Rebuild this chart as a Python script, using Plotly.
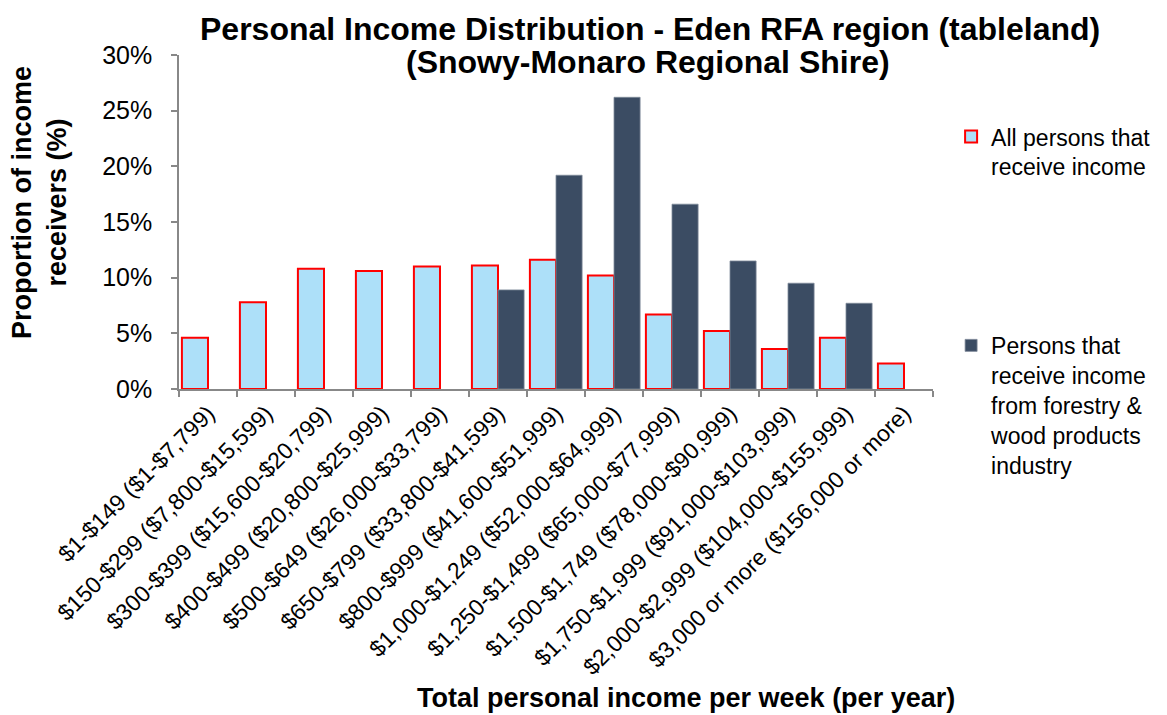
import plotly.graph_objects as go

categories = [
    "$1-$149 ($1-$7,799)",
    "$150-$299 ($7,800-$15,599)",
    "$300-$399 ($15,600-$20,799)",
    "$400-$499 ($20,800-$25,999)",
    "$500-$649 ($26,000-$33,799)",
    "$650-$799 ($33,800-$41,599)",
    "$800-$999 ($41,600-$51,999)",
    "$1,000-$1,249 ($52,000-$64,999)",
    "$1,250-$1,499 ($65,000-$77,999)",
    "$1,500-$1,749 ($78,000-$90,999)",
    "$1,750-$1,999 ($91,000-$103,999)",
    "$2,000-$2,999 ($104,000-$155,999)",
    "$3,000 or more ($156,000 or more)",
]
all_persons = [4.6, 7.8, 10.8, 10.6, 11.0, 11.1, 11.6, 10.2, 6.7, 5.2, 3.6, 4.6, 2.3]
forestry = [None, None, None, None, None, 8.9, 19.2, 26.2, 16.6, 11.5, 9.5, 7.7, None]
y_ticks = [0, 5, 10, 15, 20, 25, 30]
y_tick_labels = ["0%", "5%", "10%", "15%", "20%", "25%", "30%"]

FONT = "Liberation Sans, Arial, sans-serif"
AXIS_GRAY = "#888888"

# page offset of the figure div (body margin)
OFF = 8
PL, PT, PW, PH = 179, 55, 754, 334  # plot area in page pixels


def px(xpage):
    return (xpage - PL) / PW


def py(ypage):
    return (PT + PH - ypage) / PH


fig = go.Figure()
fig.add_trace(go.Bar(
    x=categories, y=all_persons,
    name="All persons that<br>receive income",
    marker=dict(color="#ADE0F9", line=dict(color="#FF0000", width=2)),
    legendgroup="a",
))
fig.add_trace(go.Bar(
    x=categories, y=forestry,
    name="Persons that<br>receive income<br>from forestry &<br>wood products<br>industry",
    marker=dict(color="#3B4C63", line=dict(color="#7F8A99", width=0.8)),
    legendgroup="b",
))

W, H = 1167 - OFF, 715 - OFF
fig.update_layout(
    width=W, height=H,
    margin=dict(l=PL - OFF, r=W - (PL - OFF) - PW, t=PT - OFF, b=H - (PT - OFF) - PH, autoexpand=False),
    paper_bgcolor="white", plot_bgcolor="white",
    font=dict(family=FONT, color="black"),
    barmode="group", bargap=0.1, bargroupgap=0,
    showlegend=True,
    legend=dict(
        x=1.024, xanchor="left", y=0.82, yanchor="top",
        font=dict(size=23, family=FONT, color="black"),
        valign="top", tracegroupgap=146, itemwidth=30,
        traceorder="grouped", maxheight=690,
        bgcolor="rgba(0,0,0,0)",
    ),
    xaxis=dict(
        showline=True, linecolor=AXIS_GRAY, linewidth=1.5,
        ticks="outside", tickson="boundaries", ticklen=6, tickcolor=AXIS_GRAY, tickwidth=1.5,
        tickangle=-45, tickfont=dict(size=23, family=FONT, color="black"),
        showgrid=False, automargin=False,
    ),
    yaxis=dict(
        range=[0, 30], tickvals=y_ticks, ticktext=y_tick_labels,
        showline=True, linecolor=AXIS_GRAY, linewidth=1.5,
        ticks="outside", ticklen=6, tickcolor=AXIS_GRAY, tickwidth=1.5,
        tickfont=dict(size=25, family=FONT, color="black"),
        ticklabelstandoff=14,
        showgrid=False, zeroline=False, automargin=False,
    ),
)

# Title (two lines)
fig.add_annotation(
    text="<b>Personal Income Distribution - Eden RFA region (tableland)</b>",
    xref="paper", yref="paper", x=px(650), y=py(29),
    xanchor="center", yanchor="middle", showarrow=False,
    font=dict(size=32, family=FONT, color="black"),
)
fig.add_annotation(
    text="<b>(Snowy-Monaro Regional Shire)</b>",
    xref="paper", yref="paper", x=px(648), y=py(62),
    xanchor="center", yanchor="middle", showarrow=False,
    font=dict(size=32, family=FONT, color="black"),
)
fig.add_annotation(
    text="<b>Total personal income per week (per year)</b>",
    xref="paper", yref="paper", x=px(686), y=py(698),
    xanchor="center", yanchor="middle", showarrow=False,
    font=dict(size=27, family=FONT, color="black"),
)
fig.add_annotation(
    text="<b>Proportion of income<br>receivers (%)</b>",
    xref="paper", yref="paper", x=px(39), y=py(203),
    xanchor="center", yanchor="middle", showarrow=False, textangle=-90,
    font=dict(size=27, family=FONT, color="black"),
)

fig.write_html("out.html")
